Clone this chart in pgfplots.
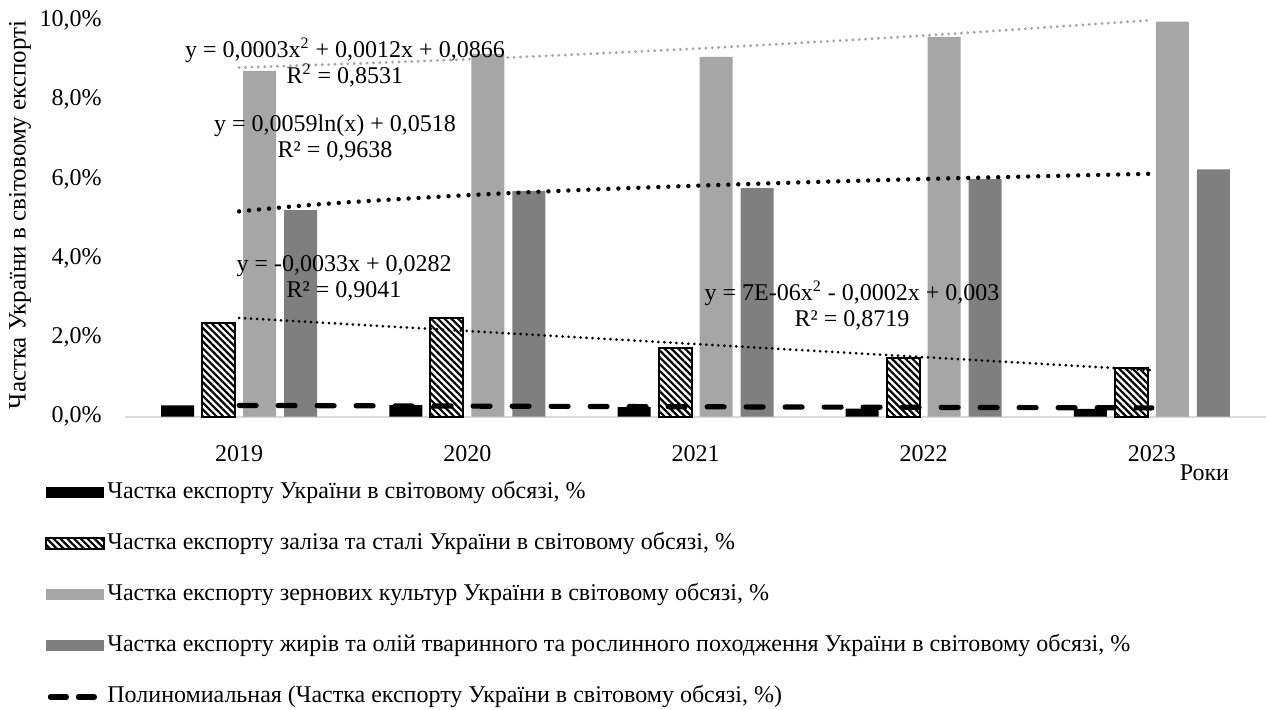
\documentclass[border=0pt]{standalone}
\usepackage{fontspec}
\setmainfont{Liberation Serif}
\usepackage{pgfplots}
\pgfplotsset{compat=1.18}
\usetikzlibrary{patterns.meta}
\definecolor{lgray}{HTML}{A6A6A6}
\definecolor{dgray}{HTML}{7F7F7F}
\definecolor{axgray}{HTML}{D9D9D9}
\definecolor{tgray}{HTML}{A6A6A6}
\pgfplotsset{
  barleg/.style={legend image code/.code={\path[##1] (0pt,-2.75pt) rectangle (29pt,2.75pt);}},
  lineleg/.style={legend image code/.code={\draw[##1, dash pattern=on 8pt off 6pt] (2pt,0pt) -- (25pt,0pt);}},
}
\begin{document}
\fontsize{12}{13}\selectfont
\begin{tikzpicture}
\useasboundingbox (0,0) rectangle (634.5pt,-354.5pt);
\begin{axis}[
  at={(62.5pt,-208.25pt)}, anchor=south west,
  scale only axis, width=570.5pt, height=198pt,
  xmin=0.5, xmax=5.5, ymin=0, ymax=10,
  clip=false,
  ybar=4pt, bar width=16.5pt,
  axis lines*=left,
  y axis line style={draw=none},
  x axis line style={-, draw=axgray, line width=1pt},
  tick style={draw=none},
  xtick={1,2,3,4,5}, xticklabels={2019,2020,2021,2022,2023},
  xticklabel style={yshift=-6.2pt},
  ytick={0,2,4,6,8,10},
  yticklabel={\pgfmathprintnumber[fixed,fixed zerofill,precision=1,use comma,assume math mode=true]{\tick}\%},
  yticklabel style={xshift=-7.5pt},
  ylabel={Частка України в світовому експорті},
  ylabel style={at={(axis description cs:-0.092,0.509)}, anchor=center, font=\fontsize{12.5}{14}\selectfont},
  xlabel={Роки},
  xlabel style={at={(axis description cs:0.946,-0.143)}, anchor=center},
  legend cell align=left,
  legend style={
    at={(-0.0701,-0.1604)}, anchor=north west,
    draw=none, fill=none, inner sep=0pt,
    row sep=13pt,
    nodes={inner sep=1pt, text height=8pt, text depth=2.5pt, font=\fontsize{12}{13}\selectfont},
  },
]
% bars
\addplot[barleg, fill=black, draw=none] coordinates {(1,0.28) (2,0.29) (3,0.24) (4,0.20) (5,0.19)};
\addlegendentry{Частка експорту України в світовому обсязі, \%}
\addplot[barleg, draw=black, line width=1pt, pattern={Lines[angle=-45,distance=2.4pt,line width=1.1pt]}] coordinates {(1,2.37) (2,2.48) (3,1.72) (4,1.49) (5,1.22)};
\addlegendentry{Частка експорту заліза та сталі України в світовому обсязі, \%}
\addplot[barleg, fill=lgray, draw=none] coordinates {(1,8.73) (2,9.15) (3,9.08) (4,9.59) (5,9.97)};
\addlegendentry{Частка експорту зернових культур України в світовому обсязі, \%}
\addplot[barleg, fill=dgray, draw=none] coordinates {(1,5.21) (2,5.70) (3,5.77) (4,6.00) (5,6.24)};
\addlegendentry{Частка експорту жирів та олій тваринного та рослинного походження України в світовому обсязі, \%}
% trend lines
\addplot[lineleg, smooth, mark=none, black, line width=2.6pt, dash pattern=on 8.5pt off 11pt, line cap=round] coordinates {(1,0.2807) (2,0.2628) (3,0.2463) (4,0.2312) (5,0.2175)};
\addlegendentry{Полиномиальная (Частка експорту України в світовому обсязі, \%)}
\addplot[forget plot, sharp plot, mark=none, black, line width=1.5pt, dash pattern=on 0pt off 3pt, line cap=round] coordinates {(1,2.49) (5,1.17)};
\addplot[forget plot, smooth, mark=none, tgray, line width=1.6pt, dash pattern=on 0pt off 3.2pt, line cap=round] coordinates {(1,8.81) (2,9.02) (3,9.29) (4,9.62) (5,10.01)};
\addplot[forget plot, smooth, mark=none, black, line width=2.2pt, dash pattern=on 0pt off 5pt, line cap=round] coordinates {(1,5.18) (1.25,5.312) (1.5,5.419) (2,5.589) (2.5,5.721) (3,5.828) (3.5,5.919) (4,5.998) (4.5,6.067) (5,6.130)};
% equations
\node[align=center] at (axis cs:1.464,8.93) {y = 0,0003x\textsuperscript{2} + 0,0012x + 0,0866\\R\textsuperscript{2} = 0,8531};
\node[align=center] at (axis cs:1.420,7.03) {y = 0,0059ln(x) + 0,0518\\R² = 0,9638};
\node[align=center] at (axis cs:1.460,3.48) {y = -0,0033x + 0,0282\\R² = 0,9041};
\node[align=center] at (axis cs:3.686,2.80) {y = 7E-06x\textsuperscript{2} - 0,0002x + 0,003\\R² = 0,8719};
\end{axis}
\end{tikzpicture}
\end{document}
